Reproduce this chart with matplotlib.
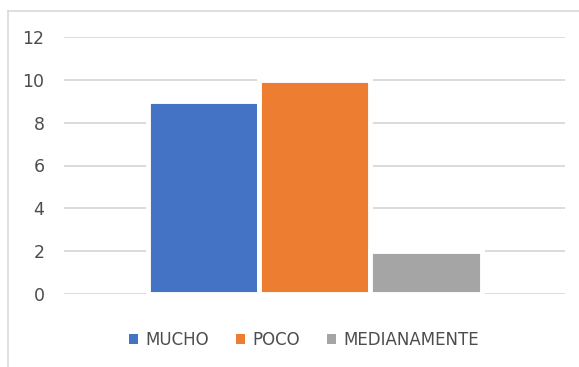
import matplotlib
matplotlib.use("Agg")
import matplotlib.pyplot as plt
from matplotlib.patches import Patch
from matplotlib.lines import Line2D

series = ['MUCHO', 'POCO', 'MEDIANAMENTE']
values = [9, 10, 2]
colors = ['#4472C4', '#ED7D31', '#A5A5A5']
yticks = [0, 2, 4, 6, 8, 10, 12]

W, H = 579, 367
fig = plt.figure(figsize=(W / 100, H / 100), dpi=100)
ax = fig.add_axes([64 / W, 1 - 294 / H, (565 - 64) / W, (294 - 37) / H])

# clustered bars, gap width 50% -> group takes 2/3 of the category slot
bw = (2 / 3) / len(series)
offsets = [(i - (len(series) - 1) / 2) * bw for i in range(len(series))]
for off, v, c in zip(offsets, values, colors):
    ax.bar(off, v, width=bw, color=c, edgecolor='white', linewidth=3.5, zorder=3)

ax.set_xlim(-0.5, 0.5)
ax.set_ylim(0, 12)
ax.set_yticks(yticks)
ax.set_xticks([])
ax.yaxis.grid(True, color='#d9d9d9', linewidth=1.3, zorder=0)
ax.set_axisbelow(True)
for s in ax.spines.values():
    s.set_visible(False)
ax.tick_params(axis='y', length=0, pad=14, labelsize=12.5, labelcolor='#4d4d4d')

handles = [Patch(facecolor=c, edgecolor='none') for c in colors]
fig.legend(handles, series, loc='center', bbox_to_anchor=(304 / W, 1 - 340 / H),
           ncol=3, frameon=False, fontsize=12, labelcolor='#4d4d4d',
           handlelength=0.55, handleheight=0.55, handletextpad=0.45, columnspacing=1.6)

# chart area border (only top and left edges fall inside the frame)
fig.add_artist(Line2D([8 / W, 1.0], [1 - 11 / H, 1 - 11 / H], color='#d9d9d9', lw=1.2))
fig.add_artist(Line2D([8 / W, 8 / W], [0.0, 1 - 11 / H], color='#d9d9d9', lw=1.2))

fig.savefig('out.png', dpi=100)
